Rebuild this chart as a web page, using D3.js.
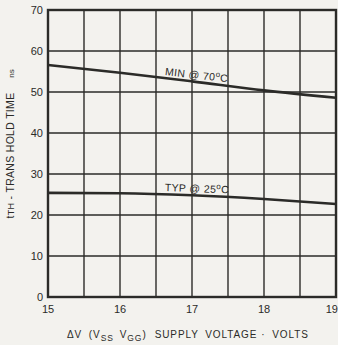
<!DOCTYPE html>
<html>
<head>
<meta charset="utf-8">
<script src="https://cdn.jsdelivr.net/npm/d3@7"></script>
<style>
  html, body { margin: 0; padding: 0; background: #f3f2ee; }
  svg { display: block; }
</style>
</head>
<body>
<div id="chart"></div>
<script>
// values
const voltages = [15, 16, 17, 18, 19];
const minAt70 = [56.6, 54.7, 52.6, 50.4, 48.6];
const typAt25 = [25.4, 25.3, 24.8, 23.9, 22.7];
const xTicks = [15, 16, 17, 18, 19];
const xGrid = [15, 15.5, 16, 16.5, 17, 17.5, 18, 18.5, 19];
const yTicks = [0, 10, 20, 30, 40, 50, 60, 70];

const width = 338, height = 345;
const margin = { top: 10, right: 2, bottom: 48, left: 48 };

const svg = d3.select("#chart")
  .append("svg")
    .attr("width", width)
    .attr("height", height)
    .attr("font-family", "'Liberation Sans', Arial, sans-serif");

const x = d3.scaleLinear().domain([15, 19]).range([margin.left, width - margin.right]);
const y = d3.scaleLinear().domain([0, 70]).range([height - margin.bottom, margin.top]);

const ink = "#2b2b28";

// grid
svg.append("g")
  .selectAll("line")
  .data(xGrid)
  .join("line")
    .attr("x1", d => x(d)).attr("x2", d => x(d))
    .attr("y1", y(0)).attr("y2", y(70))
    .attr("stroke", ink).attr("stroke-width", 1.4);

svg.append("g")
  .selectAll("line")
  .data(yTicks)
  .join("line")
    .attr("x1", x(15)).attr("x2", x(19))
    .attr("y1", d => y(d)).attr("y2", d => y(d))
    .attr("stroke", ink).attr("stroke-width", 1.4);

// frame
svg.append("rect")
  .attr("x", x(15)).attr("y", y(70))
  .attr("width", x(19) - x(15)).attr("height", y(0) - y(70))
  .attr("fill", "none").attr("stroke", ink).attr("stroke-width", 2.4);

// tick labels
svg.append("g")
  .selectAll("text")
  .data(yTicks)
  .join("text")
    .attr("x", x(15) - 5)
    .attr("y", d => y(d) + 4)
    .attr("text-anchor", "end")
    .attr("font-size", 11)
    .attr("fill", ink)
    .text(d => d);

svg.append("g")
  .selectAll("text")
  .data(xTicks)
  .join("text")
    .attr("x", d => x(d))
    .attr("y", y(0) + 16)
    .attr("text-anchor", d => d === 19 ? "end" : "middle")
    .attr("dx", d => d === 19 ? 2 : 0)
    .attr("font-size", 11)
    .attr("fill", ink)
    .text(d => d);

// curves
const line = d3.line()
  .x((d, i) => x(voltages[i]))
  .y(d => y(d))
  .curve(d3.curveMonotoneX);

[minAt70, typAt25].forEach(series => {
  svg.append("path")
    .datum(series)
    .attr("d", line)
    .attr("fill", "none")
    .attr("stroke", ink)
    .attr("stroke-width", 2.6);
});

// curve labels, sitting just above each line
function curveLabel(at, value, angle, parts) {
  const t = svg.append("text")
    .attr("transform", `translate(${x(at)},${y(value) - 3}) rotate(${angle})`)
    .attr("font-size", 10.5)
    .attr("letter-spacing", 0.4)
    .attr("fill", ink);
  parts.forEach(p => {
    t.append("tspan")
      .attr("dy", p.dy || 0)
      .attr("font-size", p.size || 10.5)
      .text(p.text);
  });
}

curveLabel(16.62, 53.4, 6.5, [
  { text: "MIN @ 70" },
  { text: "o", dy: -4, size: 8 },
  { text: "C", dy: 4 }
]);
curveLabel(16.62, 25.1, 2, [
  { text: "TYP @ 25" },
  { text: "o", dy: -4, size: 8 },
  { text: "C", dy: 4 }
]);

// y axis title
const yTitle = svg.append("text")
  .attr("transform", `translate(14,${y(35) + 2}) rotate(-90)`)
  .attr("text-anchor", "middle")
  .attr("font-size", 10.5)
  .attr("letter-spacing", 0.3)
  .attr("fill", ink);
yTitle.append("tspan").text("t");
yTitle.append("tspan").attr("font-size", 9).text("TH");
yTitle.append("tspan").text(" -  TRANS HOLD TIME");

svg.append("text")
  .attr("transform", `translate(14,${y(54.5)}) rotate(-90)`)
  .attr("text-anchor", "middle")
  .attr("font-size", 8)
  .attr("fill", ink)
  .text("ns");

// x axis title
const xTitle = svg.append("text")
  .attr("x", 67)
  .attr("y", 338)
  .attr("font-size", 10)
  .attr("letter-spacing", 0.9)
  .attr("word-spacing", 3)
  .attr("fill", ink);
xTitle.append("tspan").text("\u0394V (V");
xTitle.append("tspan").attr("dy", 3).attr("font-size", 8.5).text("SS");
xTitle.append("tspan").attr("dy", -3).attr("dx", 6).text("V");
xTitle.append("tspan").attr("dy", 3).attr("font-size", 8.5).text("GG");
xTitle.append("tspan").attr("dy", -3).text(")");
xTitle.append("tspan").attr("dx", 8).text("SUPPLY VOLTAGE");
xTitle.append("tspan").attr("dx", 4).text("\u00b7 VOLTS");
</script>
</body>
</html>
